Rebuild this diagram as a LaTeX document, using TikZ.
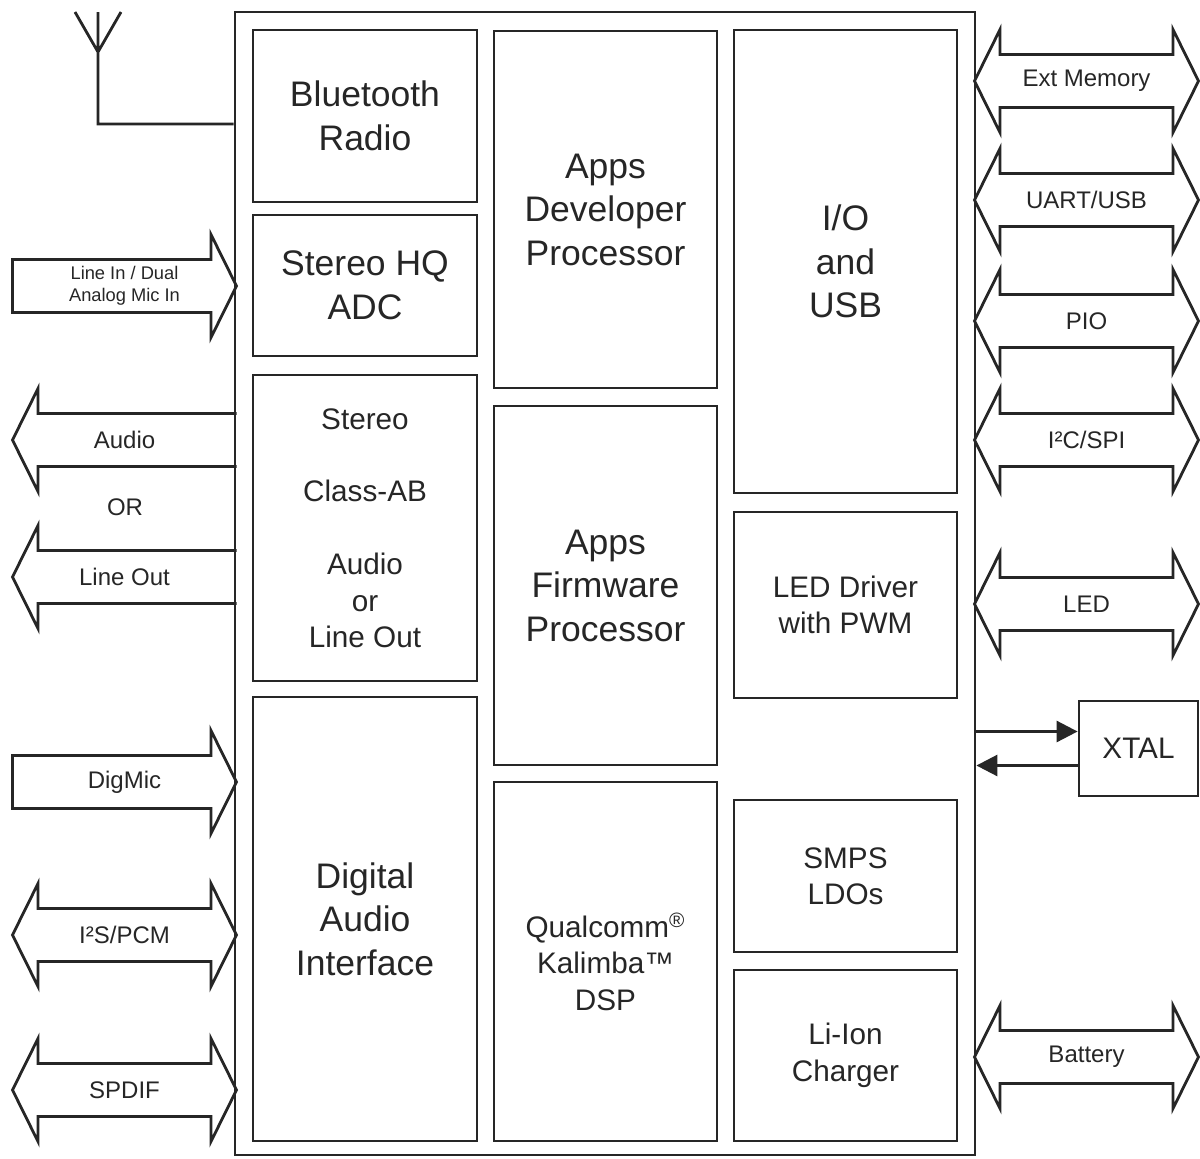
\documentclass[tikz,border=0pt]{standalone}
\usepackage{fontspec}
\setmainfont{Liberation Sans}
\usetikzlibrary{arrows.meta}
\newcommand\fntbig{\fontsize{17.75}{21.75}\selectfont}
\newcommand\fntmid{\fontsize{14.85}{18.2}\selectfont}
\newcommand\fntlbl{\fontsize{12}{14}\selectfont}
\newcommand\fnttiny{\fontsize{9.15}{11}\selectfont}
\tikzset{
  blk/.style={draw=black!85,line width=1.4pt,inner sep=0pt,align=center,font=\fntbig,text=black!85},
  blkmid/.style={blk,font=\fntmid},
  boxsz/.style 2 args={minimum width=#1*0.5pt,minimum height=#2*0.5pt},
  arrline/.style={draw=black!85,line width=1.4pt,line join=miter},
  lbl/.style={align=center,font=\fntlbl,text=black!85,inner sep=0pt},
  wire/.style={draw=black!85,line width=1.4pt},
  sig/.style={wire,-{Triangle[length=10.5pt,width=10.5pt]}},
  pics/dblarrow/.style={code={
    \draw[arrline] (-112,0) -- (-86.5,-51.5) -- (-86.5,-26.5) -- (86.5,-26.5) -- (86.5,-51.5) -- (112,0)
      -- (86.5,51.5) -- (86.5,26.5) -- (-86.5,26.5) -- (-86.5,51.5) -- cycle;
    \node[lbl] (-txt) {#1};
  }},
  pics/rarrow/.style={code={
    \draw[arrline] (-112,-26.5) -- (86.5,-26.5) -- (86.5,-51.5) -- (112,0)
      -- (86.5,51.5) -- (86.5,26.5) -- (-112,26.5) -- cycle;
    \node[lbl] (-txt) {#1};
  }},
  pics/larrow/.style={code={
    \draw[arrline] (112,-26.5) -- (-86.5,-26.5) -- (-86.5,-51.5) -- (-112,0)
      -- (-86.5,51.5) -- (-86.5,26.5) -- (112,26.5);
    \node[lbl] (-txt) {#1};
  }},
}
\begin{document}
\begin{tikzpicture}[x=0.5pt,y=-0.5pt]
\useasboundingbox (0,0) rectangle (1200,1158);
% chip outline
\node[blk,boxsz={740}{1143}] (chip) at (605,583.5) {};
% left column
\node[blk,boxsz={224}{172}] (bt) at (365,116) {Bluetooth\\Radio};
\node[blk,boxsz={224}{141}] (adc) at (365,285.5) {Stereo HQ\\ADC};
\node[blkmid,boxsz={224}{306}] (amp) at (365,528) {Stereo\\[18.2pt]Class-AB\\[18.2pt]Audio\\or\\Line Out};
\node[blk,boxsz={224}{444}] (dai) at (365,919) {Digital\\Audio\\Interface};
% middle column
\node[blk,boxsz={223}{357}] (adp) at (605.5,209.5) {Apps\\Developer\\Processor};
\node[blk,boxsz={223}{359}] (afp) at (605.5,585.5) {Apps\\Firmware\\Processor};
\node[blkmid,boxsz={223}{359}] (dsp) at (605.5,961.5) {Qualcomm\textsuperscript{®}\\Kalimba™\\DSP};
% right column
\node[blk,boxsz={223}{463}] (io) at (845.5,261.5) {I/O\\and\\USB};
\node[blkmid,boxsz={223}{186}] (led) at (845.5,605) {LED Driver\\with PWM};
\node[blkmid,boxsz={223}{152}] (smps) at (845.5,876) {SMPS\\LDOs};
\node[blkmid,boxsz={223}{171}] (chg) at (845.5,1055.5) {Li-Ion\\Charger};
\node[blkmid,boxsz={119}{95}] (xtal) at (1138.5,748.5) {XTAL};

% antenna
\coordinate (ant) at (98,52);
\coordinate (antfoot) at (98,124);
\draw[wire] (75,12) -- (ant) -- (121,12) (98,12) -- (antfoot) -- (antfoot -| chip.west);

% left interfaces
\pic[lbl/.append style={font=\fnttiny}] (linein) at (124.5,286) {rarrow={Line In / Dual\\Analog Mic In}};
\pic (audio) at (124.5,440) {larrow=Audio};
\node[lbl] (or) at (125,507) {OR};
\pic (lineout) at (124.5,577) {larrow={Line Out}};
\pic (digmic) at (124.5,782) {rarrow=DigMic};
\pic (i2s) at (124.5,935) {dblarrow={I²S/PCM}};
\pic (spdif) at (124.5,1090) {dblarrow=SPDIF};

% right interfaces
\pic (extmem) at (1086.5,81) {dblarrow={Ext Memory}};
\pic (uart) at (1086.5,200) {dblarrow={UART/USB}};
\pic (pio) at (1086.5,321) {dblarrow=PIO};
\pic (i2c) at (1086.5,440) {dblarrow={I²C/SPI}};
\pic (ledio) at (1086.5,604) {dblarrow=LED};
\pic (batt) at (1086.5,1057) {dblarrow=Battery};

% crystal
\coordinate (xin) at ([yshift=8.5pt]xtal.west);
\coordinate (xout) at ([yshift=-8.5pt]xtal.west);
\draw[sig] (xin -| chip.east) -- (xin);
\draw[sig] (xout) -- (xout -| chip.east);
\end{tikzpicture}
\end{document}
